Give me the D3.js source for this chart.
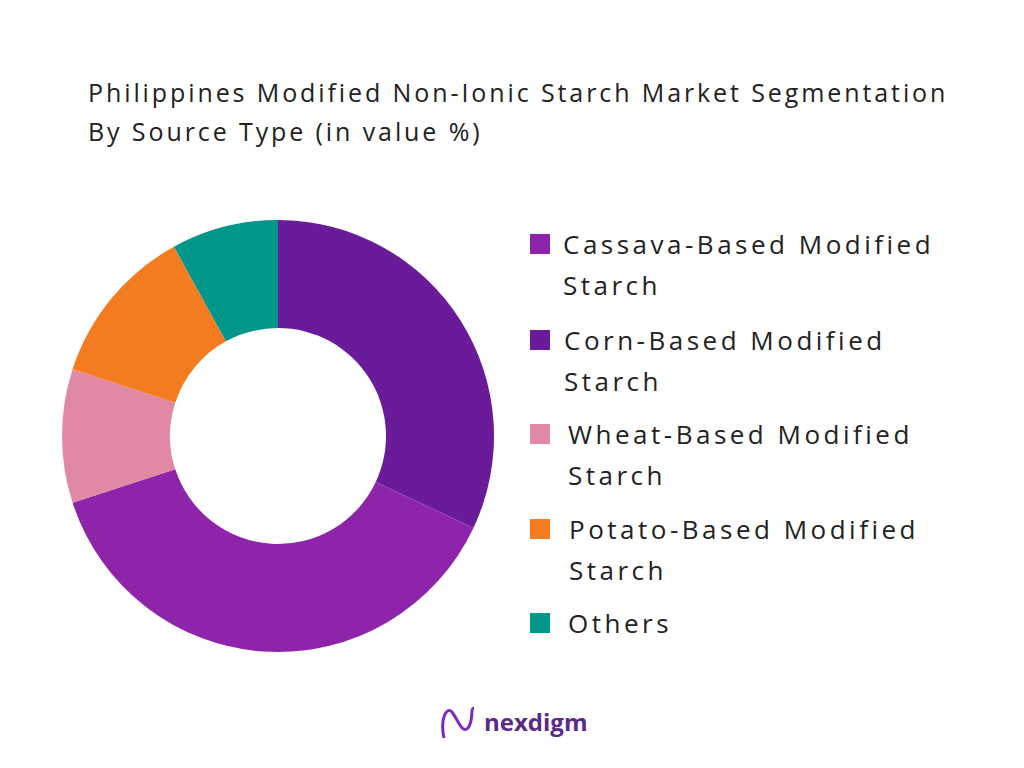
<!DOCTYPE html>
<html><head><meta charset="utf-8">
<script src="https://cdn.jsdelivr.net/npm/d3@7"></script>
<style>body{margin:0;background:#fff}</style></head>
<body><svg id="chart" width="1024" height="768"></svg>
<script>
// segments in drawing order (clockwise from 12 o'clock)
const pieLabels = ["Corn-Based Modified Starch", "Cassava-Based Modified Starch", "Wheat-Based Modified Starch", "Potato-Based Modified Starch", "Others"];
const pieValues = [32, 38, 10, 12, 8];
const pieColors = ["#6A1B9A", "#8E24AA", "#E088A4", "#F47C20", "#00968A"];

// legend order
const legendLines = [["Cassava-Based Modified", "Starch"], ["Corn-Based Modified", "Starch"], ["Wheat-Based Modified", "Starch"], ["Potato-Based Modified", "Starch"], ["Others"]];
const legendColors = ["#8E24AA", "#6A1B9A", "#E088A4", "#F47C20", "#00968A"];
const legendY = [245, 341, 435, 530, 624];
const legendX = [563, 564, 568, 569, 568];

const svg = d3.select("#chart");
const font = "'Open Sans', sans-serif";

svg.append("text").attr("x", 88).attr("y", 102).attr("font-family", font).attr("font-size", 25).attr("fill", "#222")
    .attr("letter-spacing", 2.9).text("Philippines Modified Non-Ionic Starch Market Segmentation");
svg.append("text").attr("x", 88).attr("y", 141).attr("font-family", font).attr("font-size", 25).attr("fill", "#222")
    .attr("letter-spacing", 2.9).text("By Source Type (in value %)");

const pie = d3.pie().sort(null).value(d => d);
const arc = d3.arc().innerRadius(108).outerRadius(216);
svg.append("g").attr("transform", "translate(278,436)")
    .selectAll("path").data(pie(pieValues)).join("path")
    .attr("d", arc).attr("fill", (d, i) => pieColors[i]);

const leg = svg.append("g");
legendLines.forEach((lines, i) => {
    leg.append("rect").attr("x", 530).attr("y", legendY[i] - 11).attr("width", 20).attr("height", 20).attr("fill", legendColors[i]);
    lines.forEach((t, j) => {
        leg.append("text").attr("x", legendX[i]).attr("y", legendY[i] + 9 + j * 41).attr("font-family", font)
            .attr("font-size", 26).attr("letter-spacing", 3.5).attr("fill", "#222").text(t);
    });
});

// logo
const logo = svg.append("g");
logo.append("path").attr("d", "M444,738 C440,720 446,706 452,712 C458,720 462,734 468,728 C474,720 470,708 474,708")
    .attr("fill", "none").attr("stroke", "#7B2CBF").attr("stroke-width", 3);
logo.append("text").attr("x", 484).attr("y", 731).attr("font-family", font).attr("font-weight", "bold")
    .attr("font-size", 24).attr("fill", "#5B2A86").text("nexdigm");
</script></body></html>
